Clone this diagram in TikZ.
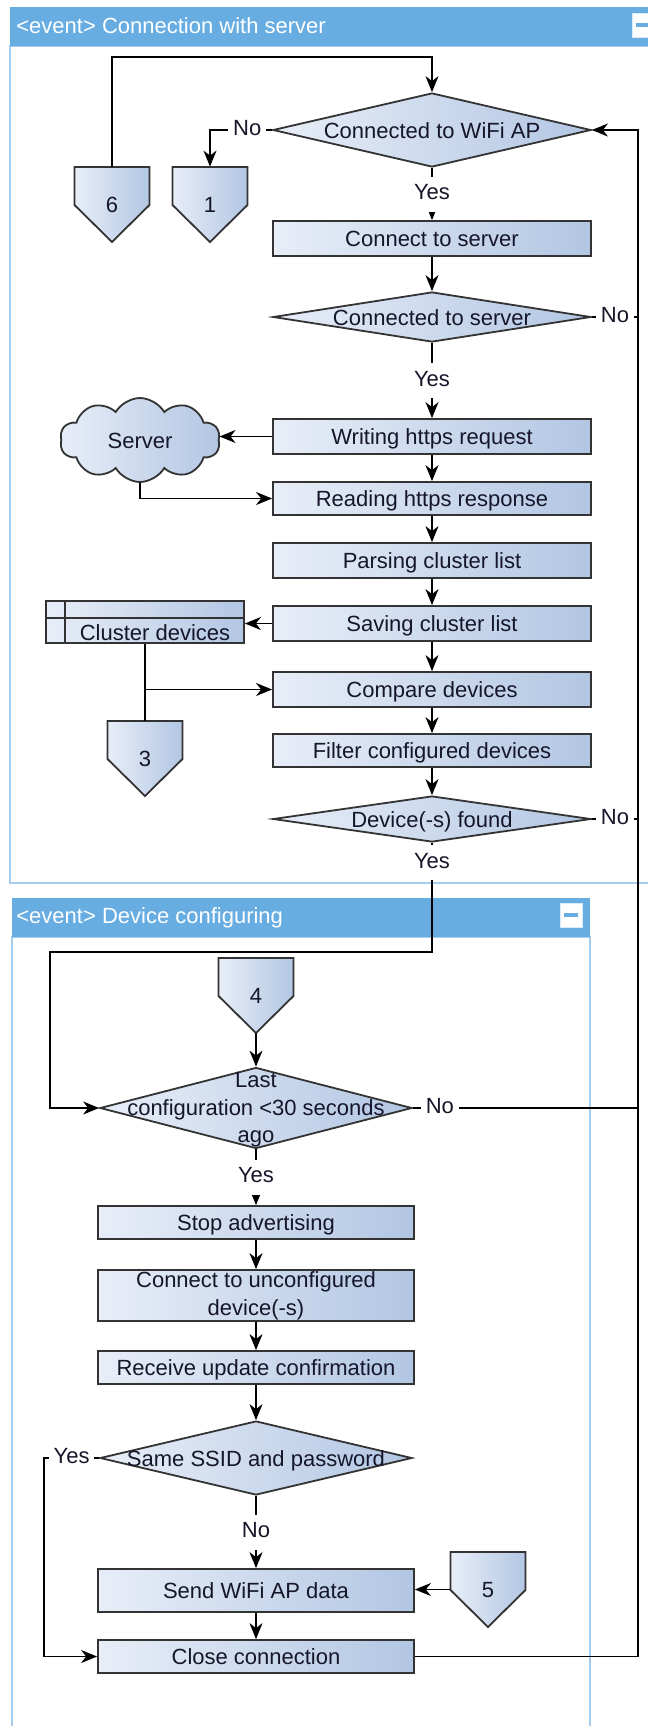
\documentclass[tikz,border=0pt]{standalone}
\usepackage{fontspec}
\setmainfont{Liberation Sans}
\usetikzlibrary{arrows.meta,shapes.geometric,shapes.symbols,calc}

\definecolor{hdrblue}{HTML}{68ADE2}
\definecolor{panelline}{HTML}{A4CDEF}
\definecolor{fillL}{HTML}{E8EEF8}
\definecolor{fillR}{HTML}{B2C6E3}
\definecolor{edge}{HTML}{333333}
\definecolor{ink}{HTML}{16162A}

\tikzset{
  fs/.style={font=\fontsize{11}{14}\selectfont},
  txt/.style={fs, text=ink, inner sep=0pt, align=center},
  one/.style={text height=8pt, text depth=0pt},
  shaded/.style={draw=edge, line width=0.9pt, left color=fillL, right color=fillR},
  boxbase/.style={shaded, minimum width=159pt, txt},
  box/.style={boxbase, one},
  dia/.style={diamond, shaded, inner sep=0pt},
  lbl/.style={fs, text=ink, fill=white, inner xsep=2.5pt, inner ysep=3.5pt,
              text height=8pt, text depth=2.5pt},
  conn/.style={draw=black, line width=0.7pt},
  arr/.style={conn, -{Stealth[length=8pt,width=6.5pt,inset=2.5pt]}},
  hdrtxt/.style={fs, text=white, anchor=west, inner sep=0pt, one},
  minusbox/.style={fill=white, draw=white!75!hdrblue, line width=0.4pt,
                   minimum width=11pt, minimum height=12pt, inner sep=0pt},
}

% off-page connector: name, centre x, top y, number
\newcommand\offpage[4]{%
  \path[shaded] (#2-37.5,#3) -- (#2+37.5,#3) -- (#2+37.5,#3+38)
    -- (#2,#3+75) -- (#2-37.5,#3+38) -- cycle;
  \node[txt, one, minimum width=37.5pt, minimum height=37.5pt] (#1) at (#2,#3+37.5) {#4};
}

\begin{document}
\begin{tikzpicture}[x=0.5pt, y=-0.5pt]
\useasboundingbox (0,0) rectangle (648,1726);
\clip (0,0) rectangle (648,1726);
\fill[white] (0,0) rectangle (648,1726);

% ---- swimlane frames
\draw[panelline, line width=1pt] (10,46) rectangle (700,883);
\fill[hdrblue] (10,7) rectangle (700,46);
\node[hdrtxt] (h1) at (16,25) {<event> Connection with server};
\node[minusbox] (m1) at (643,25) {};
\draw[hdrblue, line width=1.6pt] ([xshift=-3.5pt]m1.center) -- ([xshift=3.5pt]m1.center);

\draw[panelline, line width=1pt] (12,937) rectangle (590,1800);
\fill[hdrblue] (12,898) rectangle (590,937);
\node[hdrtxt] (h2) at (16,915) {<event> Device configuring};
\node[minusbox] (m2) at (571,915) {};
\draw[hdrblue, line width=1.6pt] ([xshift=-3.5pt]m2.center) -- ([xshift=3.5pt]m2.center);

% ---- connection with server
\offpage{p6}{112}{167}{6}
\offpage{p1}{210}{167}{1}
\node[dia, minimum width=159pt, minimum height=37pt] (d1) at (432,130) {};
\node[txt, one] (d1t) at (d1.center) {Connected to WiFi AP};
\node[box, minimum height=17.5pt] (cs) at (432,238.5) {Connect to server};
\node[dia, minimum width=159pt, minimum height=25pt] (d2) at (432,317) {};
\node[txt, one] (d2t) at (d2.center) {Connected to server};
\node[box, minimum height=17.5pt] (wr) at (432,436.5) {Writing https request};
\node[box, minimum height=16.5pt] (rd) at (432,498.5) {Reading https response};
\node[box, minimum height=17.5pt] (pc) at (432,560.5) {Parsing cluster list};
\node[box, minimum height=17.5pt] (sv) at (432,623.5) {Saving cluster list};
\node[box, minimum height=17.5pt] (cmp) at (432,689.5) {Compare devices};
\node[box, minimum height=16.5pt] (flt) at (432,750.5) {Filter configured devices};
\node[dia, minimum width=159pt, minimum height=23pt] (df) at (432,819) {};
\node[txt, one] (dft) at (df.center) {Device(-s) found};

\node[cloud, cloud puffs=10, cloud puff arc=120, shaded,
      minimum width=80pt, minimum height=42pt, inner sep=0pt] (srv) at (140,440) {};
\node[txt, one] (srvt) at (140,440) {Server};

\node[shaded, minimum width=99pt, minimum height=21pt, inner sep=0pt] (cd) at (145,622) {};
\draw[draw=edge, line width=0.9pt] ([yshift=-9pt]cd.north west) -- ([yshift=-9pt]cd.north east);
\draw[draw=edge, line width=0.9pt] ([xshift=10pt]cd.north west) -- ([xshift=10pt]cd.south west);
\node[txt, one] (cdt) at (155,632) {Cluster devices};
\offpage{p3}{145}{721}{3}

% ---- device configuring
\offpage{p4}{256}{958}{4}
\node[dia, minimum width=156pt, minimum height=40.5pt] (d3) at (256,1108) {};
\node[txt, font=\fontsize{11}{13.8}\selectfont] (d3t) at (256,1110) {Last\\configuration <30 seconds\\ago};
\node[box, minimum width=158pt, minimum height=16.5pt] (sa) at (256,1222.5) {Stop advertising};
\node[boxbase, minimum width=158pt, minimum height=25.5pt] (cu) at (256,1295.5) {Connect to unconfigured\\device(-s)};
\node[box, minimum width=158pt, minimum height=16.5pt] (ru) at (256,1367.5) {Receive update confirmation};
\node[dia, minimum width=156pt, minimum height=37pt] (d4) at (256,1458) {};
\node[txt, one] (d4t) at (d4.center) {Same SSID and password};
\node[box, minimum width=158pt, minimum height=21.5pt] (sw) at (256,1590.5) {Send WiFi AP data};
\node[box, minimum width=158pt, minimum height=16.5pt] (cc) at (256,1656.5) {Close connection};
\offpage{p5}{488}{1552}{5}

% ---- connectors
\coordinate (rail) at (638,0);
\coordinate (looptop) at (432,57);
\draw[arr] (p6.north) |- (looptop) -- (d1.north);
\draw[arr] (d1.west) -- node[lbl, pos=0.4] (n1) {No} (d1.west -| p1.north) -- (p1.north);
\draw[arr] (d1.south) -- node[lbl] (y1) {Yes} (cs.north);
\draw[arr] (cs.south) -- (d2.north);
\draw[conn] (d2.east) -- node[lbl] (n2) {No} (d2.east -| rail);
\draw[arr] (d2.south) -- node[lbl] (y2) {Yes} (wr.north);
\draw[arr] (wr.west) -- (wr.west -| srv.east);
\draw[arr] (srv.south) |- (rd.west);
\draw[arr] (wr.south) -- (rd.north);
\draw[arr] (rd.south) -- (pc.north);
\draw[arr] (pc.south) -- (sv.north);
\draw[arr] (sv.west) -- (sv.west -| cd.east);
\draw[arr] (sv.south) -- (cmp.north);
\draw[conn] (cd.south) -- (p3.north);
\coordinate (cdj) at (cd.south |- cmp.west);
\draw[arr] (cdj) -- (cmp.west);
\draw[arr] (cmp.south) -- (flt.north);
\draw[arr] (flt.south) -- (df.north);
\draw[conn] (df.east) -- node[lbl] (n3) {No} (df.east -| rail);

\coordinate (ybend) at (432,952);
\coordinate (lbend) at (50,952);
\draw[arr] (df.south) -- node[lbl, pos=0.18] (y3) {Yes} (ybend) -- (lbend) |- (d3.west);
\draw[arr] (p4.south) -- (d3.north);
\draw[conn] (d3.east) -- node[lbl, pos=0.12] (n4) {No} (d3.east -| rail);
\draw[arr] (d3.south) -- node[lbl] (y4) {Yes} (sa.north);
\draw[arr] (sa.south) -- (cu.north);
\draw[arr] (cu.south) -- (ru.north);
\draw[arr] (ru.south) -- (d4.north);
\draw[arr] (d4.south) -- node[lbl] (n5) {No} (sw.north);
\draw[arr] (sw.south) -- (cc.north);
\draw[arr] (p5.west) -- (p5.west -| sw.east);
\coordinate (ybend2) at (44,1458);
\draw[arr] (d4.west) -- node[lbl] (y5) {Yes} (ybend2) |- (cc.west);
\draw[arr] (cc.east) -| (rail |- d1.east) -- (d1.east);
\end{tikzpicture}
\end{document}
